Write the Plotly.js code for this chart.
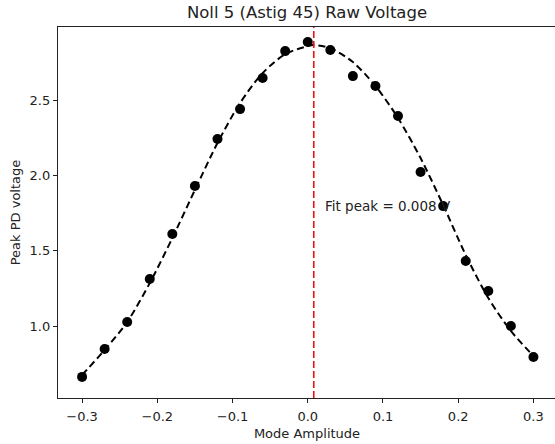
<!DOCTYPE html>
<html><head><meta charset="utf-8">
<script src="https://cdn.plot.ly/plotly-3.0.1.min.js"></script>
<style>html,body{margin:0;padding:0;overflow:hidden;background:#fff;width:555px;height:444px}</style>
</head><body><div id="plot"></div>
<script>
// measured points
const amp = [-0.30,-0.27,-0.24,-0.21,-0.18,-0.15,-0.12,-0.09,-0.06,-0.03,0.00,0.03,0.06,0.09,0.12,0.15,0.18,0.21,0.24,0.27,0.30];
const voltage = [0.662,0.847,1.027,1.312,1.611,1.929,2.241,2.440,2.646,2.825,2.885,2.832,2.659,2.593,2.394,2.022,1.796,1.431,1.232,1.000,0.794];
// fit curve
const fitX = [-0.30,-0.27,-0.24,-0.21,-0.18,-0.15,-0.12,-0.09,-0.06,-0.03,0.00,0.008,0.03,0.06,0.09,0.12,0.15,0.18,0.21,0.24,0.27,0.30];
const fitY = [0.675,0.841,1.027,1.285,1.584,1.903,2.215,2.480,2.679,2.805,2.858,2.865,2.845,2.752,2.593,2.381,2.115,1.803,1.471,1.186,0.967,0.801];
const peakX = 0.008;
const yRange = [0.522, 2.985];
const xRange = [-0.332, 0.33];
const xTicks = [-0.3,-0.2,-0.1,0.0,0.1,0.2,0.3];
const yTicks = [1.0,1.5,2.0,2.5];
const annText = "Fit peak = 0.008 V";
const annY = 1.80;

const font = "DejaVu Sans, Liberation Sans, sans-serif";
const traces = [
  {x: amp, y: voltage, mode: 'markers', type: 'scatter',
   marker: {color: '#000', size: 10}},
  {x: fitX, y: fitY, mode: 'lines', type: 'scatter',
   line: {color: '#000', width: 2, dash: '7px,4px', shape: 'spline', smoothing: 0.8}},
  {x: [peakX, peakX], y: yRange, mode: 'lines', type: 'scatter',
   line: {color: '#ee1111', width: 1.6, dash: '7px,3px'}}
];
const axisCommon = {
  showgrid: false, zeroline: false, showline: true, linecolor: '#222', linewidth: 1.2,
  mirror: true, ticks: 'outside', ticklen: 4, tickwidth: 1, tickcolor: '#222',
  tickfont: {family: font, size: 13, color: '#222'}
};
const layout = {
  width: 560, height: 444,
  margin: {l: 58, r: 4, t: 27, b: 46},
  paper_bgcolor: '#fff', plot_bgcolor: '#fff',
  showlegend: false,
  font: {family: font, color: '#222'},
  title: {text: 'Noll 5 (Astig 45) Raw Voltage', font: {family: font, size: 16.5, color: '#222'},
          x: 307/560, xanchor: 'center', y: 1 - 12/444, yanchor: 'middle', xref: 'container', yref: 'container'},
  xaxis: Object.assign({}, axisCommon, {range: xRange, tickvals: xTicks, tickformat: '.1f', ticklabelstandoff: 2,
          title: {text: 'Mode Amplitude', font: {family: font, size: 13, color: '#222'}, standoff: 6}}),
  yaxis: Object.assign({}, axisCommon, {range: yRange, tickvals: yTicks, tickformat: '.1f',
          title: {text: 'Peak PD voltage', font: {family: font, size: 13, color: '#222'}, standoff: 6}}),
  annotations: [{x: peakX + 0.012, y: annY, xref: 'x', yref: 'y', text: annText, showarrow: false,
                 xanchor: 'left', yanchor: 'middle', font: {family: font, size: 13.5, color: '#222'}}]
};
Plotly.newPlot('plot', traces, layout, {staticPlot: true, displayModeBar: false});
</script></body></html>
